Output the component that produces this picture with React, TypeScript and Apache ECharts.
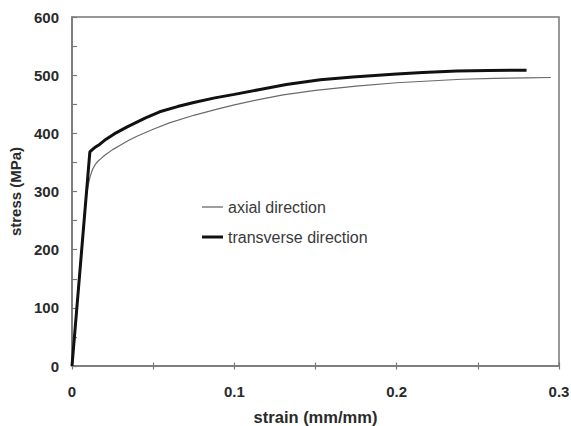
import React, { useEffect, useRef } from "react";
import * as echarts from "echarts";

const axialStrain = [0, 0.008, 0.009, 0.01, 0.011, 0.012, 0.013, 0.0145, 0.016, 0.018, 0.02, 0.025, 0.03, 0.035, 0.04, 0.05, 0.06, 0.075, 0.09, 0.1, 0.115, 0.13, 0.15, 0.175, 0.2, 0.22, 0.24, 0.26, 0.28, 0.295];
const axialStress = [0, 272, 294, 311, 324, 333, 340, 347, 352, 357, 362, 372, 380, 388, 395, 407, 418, 431, 442, 449, 458, 466, 474, 481, 487, 490, 493, 494.5, 495.5, 496];

const transStrain = [0, 0.011, 0.0125, 0.014, 0.017, 0.021, 0.026, 0.034, 0.045, 0.054, 0.065, 0.075, 0.088, 0.1, 0.115, 0.132, 0.153, 0.173, 0.2, 0.216, 0.237, 0.257, 0.28];
const transStress = [0, 368, 372, 375.5, 381, 390, 399, 411, 426, 437, 446, 453, 461, 467, 475, 484, 492, 497, 502, 504.5, 507, 508, 508.5];

const seriesNames = ["axial direction", "transverse direction"];
const xLabelTicks = [0, 0.1, 0.2, 0.3];

const font = "'Liberation Sans', Arial, sans-serif";

export default function App() {
  const ref = useRef<HTMLDivElement>(null);
  useEffect(() => {
    if (!ref.current) return;
    const chart = echarts.init(ref.current, null, { renderer: "svg" });
    const axisColor = "#777";
    const labelColor = "#2a2a2a";
    const legendText = { fontFamily: font, fontSize: 16, color: "#3a3a3a" };
    chart.setOption({
      animation: false,
      backgroundColor: "#fff",
      grid: {
        left: 72,
        right: 12,
        top: 17,
        bottom: 60,
        show: true,
        borderColor: axisColor,
        borderWidth: 1.5,
        containLabel: false,
        outerBoundsMode: "none",
      },
      legend: [
        {
          orient: "vertical",
          left: 202,
          top: 199,
          padding: 0,
          icon: "rect",
          itemWidth: 21,
          itemHeight: 1.3,
          itemGap: 5,
          data: [seriesNames[0]],
          textStyle: legendText,
        },
        {
          orient: "vertical",
          left: 202,
          top: 229,
          padding: 0,
          icon: "rect",
          itemWidth: 21,
          itemHeight: 3,
          itemGap: 5,
          data: [seriesNames[1]],
          textStyle: legendText,
        },
      ],
      xAxis: [
        {
          type: "value",
          min: 0,
          max: 0.3,
          interval: 0.05,
          name: "strain (mm/mm)",
          nameLocation: "middle",
          nameGap: 42,
          nameTextStyle: { fontFamily: font, fontSize: 16.5, fontWeight: "bold", color: labelColor },
          axisLine: { show: true, lineStyle: { color: axisColor, width: 1.5 } },
          axisTick: { show: true, inside: false, length: 3.5, lineStyle: { color: axisColor, width: 1.2 } },
          splitLine: { show: false },
          axisLabel: {
            margin: 18,
            fontFamily: font,
            fontSize: 15,
            fontWeight: "bold",
            color: labelColor,
            formatter: (v: number) => {
              const hit = xLabelTicks.find((t) => Math.abs(t - v) < 1e-6);
              return hit === undefined ? "" : String(hit);
            },
          },
        },
        {
          type: "value",
          min: 0,
          max: 0.3,
          interval: 0.05,
          position: "bottom",
          axisLine: { show: false },
          axisTick: { show: true, inside: true, length: 3.5, lineStyle: { color: axisColor, width: 1.2 } },
          axisLabel: { show: false },
          splitLine: { show: false },
        },
      ],
      yAxis: {
        type: "value",
        min: 0,
        max: 600,
        interval: 100,
        name: "stress (MPa)",
        nameLocation: "middle",
        nameGap: 45,
        nameTextStyle: { fontFamily: font, fontSize: 15, fontWeight: "bold", color: labelColor },
        axisLine: { show: true, lineStyle: { color: axisColor, width: 1.5 } },
        axisTick: { show: true, inside: true, length: 5, lineStyle: { color: axisColor, width: 1.2 } },
        minorTick: { show: true, splitNumber: 2, length: 5, lineStyle: { color: axisColor, width: 1.2 } },
        splitLine: { show: false },
        axisLabel: {
          margin: 13,
          fontFamily: font,
          fontSize: 15,
          fontWeight: "bold",
          color: labelColor,
        },
      },
      series: [
        {
          name: seriesNames[0],
          type: "line",
          xAxisIndex: 0,
          data: axialStrain.map((x, i) => [x, axialStress[i]]),
          showSymbol: false,
          symbol: "none",
          lineStyle: { color: "#6a6a6a", width: 1.2 },
          itemStyle: { color: "#6a6a6a" },
          z: 2,
        },
        {
          name: seriesNames[1],
          type: "line",
          xAxisIndex: 0,
          data: transStrain.map((x, i) => [x, transStress[i]]),
          showSymbol: false,
          symbol: "none",
          lineStyle: { color: "#111", width: 3 },
          itemStyle: { color: "#111" },
          z: 3,
        },
      ],
    });
    return () => chart.dispose();
  }, []);
  return <div ref={ref} style={{ width: 571, height: 426, position: "absolute", left: 0, top: 0 }} />;
}
